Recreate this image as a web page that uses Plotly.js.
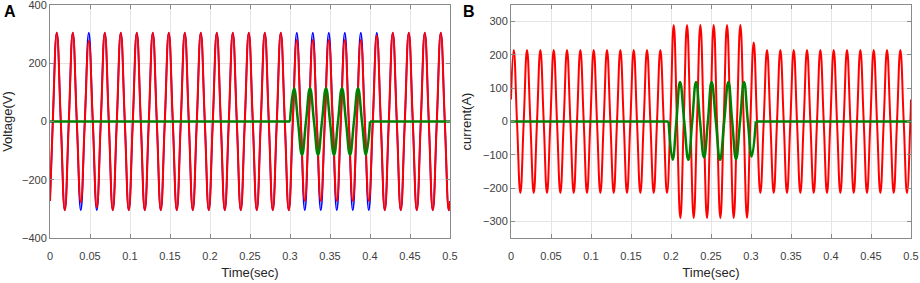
<!DOCTYPE html>
<html>
<head>
<meta charset="utf-8">
<script src="https://cdn.plot.ly/plotly-3.0.1.min.js"></script>
<style>html,body{margin:0;padding:0;background:#fff;}#chart{width:920px;height:283px;}</style>
</head>
<body>
<div id="chart"></div>
<script>
// ---------- Panel A : Voltage (50 Hz), key points (start, zero/peak/zero/trough ..., end) ----------
const timeA = [0,
  0.0035,0.0085,0.0135,0.0185,0.0235,0.0285,0.0335,0.0385,0.0435,0.0485,0.0535,0.0585,0.0635,0.0685,0.0735,0.0785,0.0835,0.0885,0.0935,0.0985,
  0.1035,0.1085,0.1135,0.1185,0.1235,0.1285,0.1335,0.1385,0.1435,0.1485,0.1535,0.1585,0.1635,0.1685,0.1735,0.1785,0.1835,0.1885,0.1935,0.1985,
  0.2035,0.2085,0.2135,0.2185,0.2235,0.2285,0.2335,0.2385,0.2435,0.2485,0.2535,0.2585,0.2635,0.2685,0.2735,0.2785,0.2835,0.2885,0.2935,0.2985,
  0.3035,0.3085,0.3135,0.3185,0.3235,0.3285,0.3335,0.3385,0.3435,0.3485,0.3535,0.3585,0.3635,0.3685,0.3735,0.3785,0.3835,0.3885,0.3935,0.3985,
  0.4035,0.4085,0.4135,0.4185,0.4235,0.4285,0.4335,0.4385,0.4435,0.4485,0.4535,0.4585,0.4635,0.4685,0.4735,0.4785,0.4835,0.4885,0.4935,0.4985,
  0.5];
const sourceVoltageA = [-273,
  0,305,0,-305, 0,305,0,-305, 0,305,0,-305, 0,305,0,-305, 0,305,0,-305,
  0,305,0,-305, 0,305,0,-305, 0,305,0,-305, 0,305,0,-305, 0,305,0,-305,
  0,305,0,-305, 0,305,0,-305, 0,305,0,-305, 0,305,0,-305, 0,305,0,-305,
  0,305,0,-305, 0,305,0,-305, 0,305,0,-305, 0,305,0,-305, 0,305,0,-305,
  0,305,0,-305, 0,305,0,-305, 0,305,0,-305, 0,305,0,-305, 0,305,0,-305,
  -273];
const loadVoltageA = [-273,
  0,305,0,-305, 0,305,0,-277, 0,276,0,-295, 0,305,0,-305, 0,305,0,-305,
  0,305,0,-305, 0,305,0,-305, 0,305,0,-305, 0,305,0,-305, 0,305,0,-305,
  0,305,0,-305, 0,305,0,-305, 0,305,0,-305, 0,305,0,-305, 0,305,0,-305,
  0,280,0,-273, 0,280,0,-273, 0,280,0,-273, 0,280,0,-273, 0,280,0,-273,
  0,295,0,-305, 0,305,0,-305, 0,305,0,-305, 0,305,0,-305, 0,305,0,-305,
  -273];
const injTimeA = [0,0.300,0.300,
  0.300,0.305,0.310,0.315,0.320,0.325,0.330,0.335,0.340,0.345,0.350,0.355,0.360,0.365,0.370,0.375,0.380,0.385,0.390,0.395,0.400,
  0.400,0.400,0.5];
const injVoltageA = [0,0,null,
  0,114,0,-114,0,114,0,-114,0,114,0,-114,0,114,0,-114,0,114,0,-114,0,
  null,0,0];

// ---------- Panel B : Current (60 Hz) ----------
const timeB = [0,
  0.0034,0.0075,0.0117,0.0159,0.0200,0.0242,0.0284,0.0325,0.0367,0.0409,0.0450,0.0492,
  0.0534,0.0575,0.0617,0.0659,0.0700,0.0742,0.0784,0.0825,0.0867,0.0909,0.0950,0.0992,
  0.1034,0.1075,0.1117,0.1159,0.1200,0.1242,0.1284,0.1325,0.1367,0.1409,0.1450,0.1492,
  0.1534,0.1575,0.1617,0.1659,0.1700,0.1742,0.1784,0.1825,0.1867,0.1909,0.1950,0.1992,
  0.2034,0.2075,0.2117,0.2159,0.2200,0.2242,0.2284,0.2325,0.2367,0.2409,0.2450,0.2492,
  0.2534,0.2575,0.2617,0.2659,0.2700,0.2742,0.2784,0.2825,0.2867,0.2909,0.2950,0.2992,
  0.3034,0.3075,0.3117,0.3159,0.3200,0.3242,0.3284,0.3325,0.3367,0.3409,0.3450,0.3492,
  0.3534,0.3575,0.3617,0.3659,0.3700,0.3742,0.3784,0.3825,0.3867,0.3909,0.3950,0.3992,
  0.4034,0.4075,0.4117,0.4159,0.4200,0.4242,0.4284,0.4325,0.4367,0.4409,0.4450,0.4492,
  0.4534,0.4575,0.4617,0.4659,0.4700,0.4742,0.4784,0.4825,0.4867,0.4909,0.4950,0.4992,
  0.5];
const loadCurrentB = [66,
  215,0,-215,0, 215,0,-215,0, 215,0,-215,0,
  215,0,-215,0, 215,0,-215,0, 215,0,-215,0,
  215,0,-215,0, 215,0,-215,0, 215,0,-215,0,
  215,0,-215,0, 215,0,-215,0, 215,0,-215,0,
  290,0,-290,0, 290,0,-290,0, 290,0,-290,0,
  290,0,-290,0, 290,0,-290,0, 290,0,-290,0,
  237,0,-215,0, 215,0,-215,0, 215,0,-215,0,
  215,0,-215,0, 215,0,-215,0, 215,0,-215,0,
  215,0,-215,0, 215,0,-215,0, 215,0,-215,0,
  215,0,-215,0, 215,0,-215,0, 215,0,-215,0,
  66];
const injTimeB = [0,0.197,0.197,
  0.197,0.202,0.2067,0.2113,0.2165,0.2217,0.2265,0.2313,0.2363,0.2413,0.2461,0.2508,
  0.2561,0.2613,0.2665,0.2717,0.2765,0.2813,0.2863,0.2913,0.2961,0.3009,0.306,
  0.306,0.306,0.5];
const injCurrentB = [0,0,null,
  0,-115,0,119,0,-115,0,119,0,-108,0,119,
  0,-115,0,119,0,-113,0,119,0,-105,0,
  null,0,0];

// ---------- Axes ticks ----------
const timeTickVals = [0,0.05,0.1,0.15,0.2,0.25,0.3,0.35,0.4,0.45,0.5];
const timeTickText = ['0','0.05','0.1','0.15','0.2','0.25','0.3','0.35','0.4','0.45','0.5'];
const voltTickVals = [-400,-200,0,200,400];
const currTickVals = [-300,-200,-100,0,100,200,300];

const W = 920, H = 283;
const FONT = 'Arial, "Liberation Sans", Helvetica, sans-serif';
const TICKC = '#404040', AXC = '#8a8a8a', GRIDC = '#e4e4e4';

function wave(x, y, color, width, xa, ya) {
  return {x: x, y: y, type: 'scatter', mode: 'lines', xaxis: xa, yaxis: ya,
    line: {color: color, width: width, shape: 'spline', smoothing: 1.3},
    connectgaps: false, hoverinfo: 'skip', showlegend: false};
}

const traces = [
  wave(timeA, sourceVoltageA, '#0000ff', 1.7, 'x', 'y'),
  wave(timeA, loadVoltageA, '#ff0000', 2, 'x', 'y'),
  wave(injTimeA, injVoltageA, '#008000', 2.5, 'x', 'y'),
  wave(timeB, loadCurrentB, '#ff0000', 2, 'x2', 'y2'),
  wave(injTimeB, injCurrentB, '#008000', 2.5, 'x2', 'y2')
];

function xax(domain, anchor) {
  return {domain: domain, anchor: anchor, range: [0, 0.5], tickmode: 'array',
    tickvals: timeTickVals, ticktext: timeTickText,
    ticks: 'inside', ticklen: 4, tickcolor: AXC, showline: true, linecolor: AXC, linewidth: 1,
    mirror: 'ticks', showgrid: true, gridcolor: GRIDC, gridwidth: 1, zeroline: false,
    ticklabeloverflow: 'allow', ticklabelstandoff: 8,
    tickfont: {family: FONT, size: 11, color: TICKC},
    title: {text: 'Time(sec)', font: {family: FONT, size: 13, color: '#262626'}, standoff: 6}};
}
function yax(domain, anchor, range, vals, label, standoff) {
  return {domain: domain, anchor: anchor, range: range, tickmode: 'array', tickvals: vals,
    ticks: 'inside', ticklen: 4, tickcolor: AXC, showline: true, linecolor: AXC, linewidth: 1,
    mirror: 'ticks', showgrid: true, gridcolor: GRIDC, gridwidth: 1, zeroline: false,
    ticklabeloverflow: 'allow',
    tickfont: {family: FONT, size: 11, color: TICKC},
    title: {text: label, font: {family: FONT, size: 13, color: '#262626'}, standoff: standoff}};
}

const yDom = [1 - 238 / H, 1 - 5 / H];
const layout = {
  width: W, height: H, margin: {l: 0, r: 0, t: 0, b: 0},
  paper_bgcolor: '#ffffff', plot_bgcolor: '#ffffff',
  xaxis: xax([50 / W, 450 / W], 'y'),
  yaxis: yax(yDom, 'x', [-400, 400], voltTickVals, 'Voltage(V)', 10),
  xaxis2: xax([511 / W, 911 / W], 'y2'),
  yaxis2: yax(yDom, 'x2', [-350, 350], currTickVals, 'current(A)', 8),
  annotations: [
    {text: '<b>A</b>', xref: 'paper', yref: 'paper', x: 2 / W, y: 1 - 11 / H, xanchor: 'left', yanchor: 'middle',
      showarrow: false, font: {family: FONT, size: 16, color: '#000'}},
    {text: '<b>B</b>', xref: 'paper', yref: 'paper', x: 461 / W, y: 1 - 11 / H, xanchor: 'left', yanchor: 'middle',
      showarrow: false, font: {family: FONT, size: 16, color: '#000'}}
  ]
};

Plotly.newPlot('chart', traces, layout, {staticPlot: true, displayModeBar: false});
</script>
</body>
</html>
